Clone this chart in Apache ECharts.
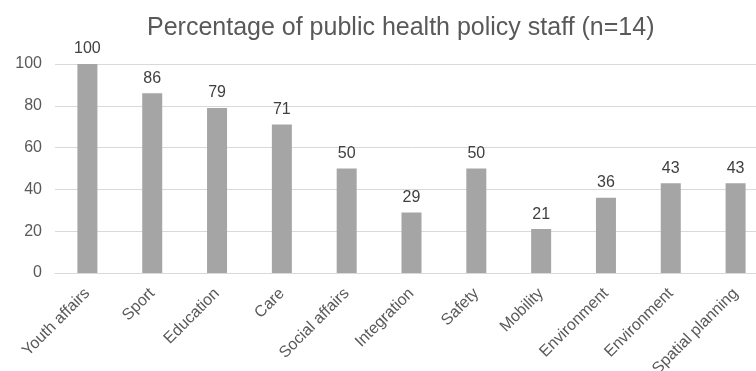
<!DOCTYPE html>
<html><head><meta charset="utf-8">
<script src="https://cdn.jsdelivr.net/npm/echarts@6/dist/echarts.min.js"></script>
<style>html,body{margin:0;padding:0;background:#fff;overflow:hidden;width:756px;height:371px}#c{width:768px;height:371px}</style>
</head><body><div id="c"></div>
<script>
var titleText = 'Percentage of public health policy staff (n=14)';
var categories = ['Youth affairs','Sport','Education','Care','Social affairs','Integration','Safety','Mobility','Environment','Environment','Spatial planning'];
var values = [100, 86, 79, 71, 50, 29, 50, 21, 36, 43, 43];
var yTicks = [0, 20, 40, 60, 80, 100];

var font = 'Liberation Sans, sans-serif';
var chart = echarts.init(document.getElementById('c'));
chart.setOption({
  animation: false,
  textStyle: { fontFamily: font },
  title: {
    text: titleText, left: 142, top: 11,
    textStyle: { fontFamily: font, fontSize: 25, fontWeight: 'normal', color: '#595959' }
  },
  grid: { left: 55, right: 0, top: 64, bottom: 98, containLabel: false, outerBoundsMode: 'none' },
  xAxis: {
    type: 'category', data: categories,
    axisLine: { lineStyle: { color: '#d9d9d9', width: 1 } },
    axisTick: { show: false },
    axisLabel: { rotate: 45, fontSize: 16, color: '#595959', margin: 18, interval: 0, fontFamily: font }
  },
  yAxis: {
    type: 'value', min: yTicks[0], max: yTicks[yTicks.length - 1], interval: 20,
    axisLine: { show: false }, axisTick: { show: false },
    splitLine: { lineStyle: { color: '#d9d9d9', width: 1 } },
    axisLabel: { fontSize: 16, color: '#595959', margin: 13, fontFamily: font }
  },
  series: [{
    type: 'bar', data: values, barWidth: 20,
    itemStyle: { color: '#a5a5a5' },
    label: { show: true, position: 'top', distance: 7, fontSize: 16, color: '#404040', fontFamily: font }
  }]
});
</script></body></html>
